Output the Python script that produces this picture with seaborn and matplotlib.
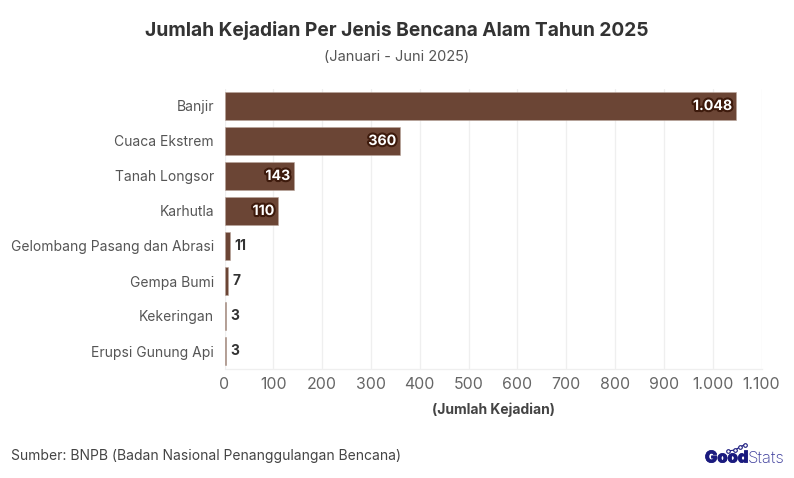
import matplotlib
matplotlib.use("Agg")
import matplotlib.pyplot as plt
import matplotlib.patheffects as pe
from matplotlib.ticker import FuncFormatter
from matplotlib.lines import Line2D
import seaborn as sns
import pandas as pd

categories = ["Banjir", "Cuaca Ekstrem", "Tanah Longsor", "Karhutla",
              "Gelombang Pasang dan Abrasi", "Gempa Bumi", "Kekeringan", "Erupsi Gunung Api"]
values = [1048, 360, 143, 110, 11, 7, 3, 3]
labels = ["1.048", "360", "143", "110", "11", "7", "3", "3"]
xticks = list(range(0, 1101, 100))
FONT = "Inter"
BAR = "#6b4535"

sns.set_theme(style="white")
plt.rcParams["font.family"] = [FONT, "DejaVu Sans"]

W, H = 794, 478
fig = plt.figure(figsize=(W / 100, H / 100), dpi=100, facecolor="white")
ax = fig.add_axes([224.5 / W, 1 - 368.5 / H, (761.5 - 224.5) / W, (368.5 - 88.5) / H])

df = pd.DataFrame({"Jenis": categories, "Jumlah": values})
sns.barplot(data=df, x="Jumlah", y="Jenis", color=BAR, saturation=1, width=0.8,
            edgecolor="#b9a59b", linewidth=0.4, ax=ax, zorder=3)

ax.set_xlim(0, 1100)
ax.set_ylim(7.5, -0.5)
ax.set_xticks(xticks)
ax.xaxis.set_major_formatter(FuncFormatter(lambda v, _: f"{int(v):,}".replace(",", ".")))
ax.grid(axis="x", color="#efefef", linewidth=0.9, zorder=0)
ax.grid(axis="y", visible=False)
for s in ["top", "right", "left"]:
    ax.spines[s].set_visible(False)
ax.spines["bottom"].set_color("#efefef")
ax.spines["bottom"].set_linewidth(0.9)
ax.tick_params(axis="x", length=0, pad=6, labelsize=11.4, labelcolor="#666666")
ax.tick_params(axis="y", length=7, width=0.9, color="#efefef", pad=0.5, labelsize=10, labelcolor="#555555")
ax.set_ylabel("")
ax.set_xlabel("(Jumlah Kejadian)", fontsize=10, fontweight="bold", color="#444444", labelpad=8)

for i, (v, t) in enumerate(zip(values, labels)):
    if v > 100:
        ax.annotate(t, (v, i), xytext=(-3, 0), textcoords="offset points", ha="right", va="center",
                    fontsize=10.2, fontweight="bold", color="white", zorder=5,
                    path_effects=[pe.withStroke(linewidth=3, foreground="#3d1a0c")])
    else:
        ax.annotate(t, (v, i), xytext=(3, 0), textcoords="offset points", ha="left", va="center",
                    fontsize=10, fontweight="bold", color="#333333", zorder=5)

fig.text(397 / W, 1 - 31 / H, "Jumlah Kejadian Per Jenis Bencana Alam Tahun 2025", ha="center", va="center",
         fontsize=13.8, fontweight="bold", color="#333333")
fig.text(397 / W, 1 - 57 / H, "(Januari - Juni 2025)", ha="center", va="center", fontsize=10.5, color="#555555")
fig.text(11 / W, 1 - 456 / H, "Sumber: BNPB (Badan Nasional Penanggulangan Bencana)", ha="left", va="center",
         fontsize=10, color="#444444")

NAVY = "#1a1a7e"
fig.text(705 / W, 1 - 458 / H, "Good", ha="left", va="center", fontsize=11.8, fontweight="black", color=NAVY,
         path_effects=[pe.withStroke(linewidth=0.5, foreground=NAVY)])
fig.text(748 / W, 1 - 458 / H, "Stats", ha="left", va="center", fontsize=12, fontweight="light", color="#3a3a9a")
fig.add_artist(Line2D([728 / W, 735 / W, 740 / W, 745 / W],
                      [1 - 451 / H, 1 - 450 / H, 1 - 447 / H, 1 - 444.5 / H],
                      color=NAVY, lw=0.8, marker="o", ms=2.6, mfc="white", mew=0.8))

fig.savefig("out.png", dpi=100)
